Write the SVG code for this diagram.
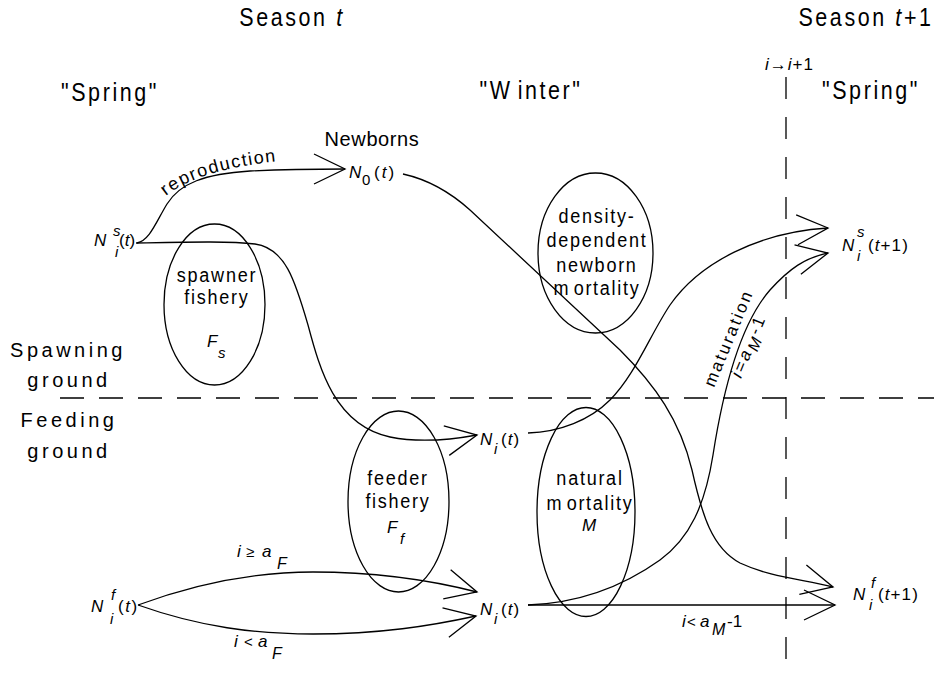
<svg xmlns="http://www.w3.org/2000/svg" width="934" height="673" viewBox="0 0 934 673">
  <style>
    text { font-family: "Liberation Sans", Arial, sans-serif; fill: #000; }
    .it { font-style: italic; }
    .nw { transform: scaleX(0.86); transform-box: fill-box; transform-origin: center; }
    .title { font-size: 25px; letter-spacing: 3px; text-anchor: middle; }
    .side { font-size: 20px; letter-spacing: 3.5px; text-anchor: middle; }
    .inside { font-size: 21px; letter-spacing: 2px; text-anchor: middle; }
    .var { font-size: 17px; }
    .sub { font-size: 15px; }
    .line { fill: none; stroke: #000; stroke-width: 1.3; }
    .dash-h { fill: none; stroke: #000; stroke-width: 1.3; stroke-dasharray: 24 15; }
    .dash-v { fill: none; stroke: #000; stroke-width: 1.3; stroke-dasharray: 22 18; }
    .zone { fill: none; stroke: #000; stroke-width: 1.3; }
  </style>
  <defs>
    <marker id="vee" markerUnits="userSpaceOnUse" markerWidth="40" markerHeight="40" refX="0" refY="0" orient="auto" overflow="visible">
      <path d="M-31,-15 L0,0 L-31,15" fill="none" stroke="#000" stroke-width="1.3"/>
    </marker>
    <path id="reproLabel" d="M166,196 Q200,168 290,160"/>
  </defs>

  <rect width="934" height="673" fill="#fff"/>

  <!-- season / time-of-year headings -->
  <g id="headings">
    <text class="title nw" x="292" y="26">Season <tspan class="it">t</tspan></text>
    <text class="title nw" x="866" y="26" letter-spacing="1.2">Season <tspan class="it">t</tspan>+1</text>
    <text class="var" x="765" y="70" letter-spacing="1"><tspan class="it">i</tspan>→<tspan class="it">i</tspan>+1</text>
    <text class="title nw" x="110" y="101" letter-spacing="2.5">"Spring"</text>
    <text class="title nw" x="531" y="99" letter-spacing="2">"W<tspan dx="6">inter"</tspan></text>
    <text class="title nw" x="871" y="99" letter-spacing="2.5">"Spring"</text>
  </g>

  <!-- habitat labels and boundaries -->
  <g id="habitats">
    <text class="side" x="68" y="357">Spawning</text>
    <text class="side" x="69" y="387">ground</text>
    <text class="side" x="69" y="427">Feeding</text>
    <text class="side" x="69" y="458">ground</text>
    <line class="dash-h" x1="60" y1="398" x2="934" y2="398"/>
    <line class="dash-v" x1="786" y1="77" x2="786" y2="673"/>
  </g>

  <!-- process zones -->
  <g id="spawner-fishery">
    <ellipse class="zone" cx="214.5" cy="304.5" rx="50.5" ry="80.5"/>
    <text class="inside nw" x="217" y="282">spawner</text>
    <text class="inside nw" x="217" y="304">fishery</text>
    <text class="var it" x="207" y="347">F<tspan class="sub" x="218" y="358">s</tspan></text>
  </g>
  <g id="newborn-mortality">
    <ellipse class="zone" cx="595.5" cy="253" rx="57.5" ry="80"/>
    <text class="inside nw" x="597" y="223">density-</text>
    <text class="inside nw" x="597" y="247">dependent</text>
    <text class="inside nw" x="597" y="272">newborn</text>
    <text class="inside nw" x="597" y="295">m<tspan dx="4">ortality</tspan></text>
  </g>
  <g id="feeder-fishery">
    <ellipse class="zone" cx="398.5" cy="501.5" rx="50.5" ry="90.5"/>
    <text class="inside nw" x="398" y="485">feeder</text>
    <text class="inside nw" x="398" y="508">fishery</text>
    <text class="var it" x="387" y="533">F<tspan class="sub" x="400" y="544">f</tspan></text>
  </g>
  <g id="natural-mortality">
    <ellipse class="zone" cx="586" cy="512" rx="49" ry="104.5"/>
    <text class="inside nw" x="590" y="485">natural</text>
    <text class="inside nw" x="590" y="510">m<tspan dx="4">ortality</tspan></text>
    <text class="var it" x="582" y="531">M</text>
  </g>

  <!-- population states -->
  <g id="spawners-t">
    <text class="var"><tspan class="it" x="94" y="246">N</tspan><tspan class="sub it" x="113" y="236">s</tspan><tspan class="sub it" x="115" y="257">i</tspan><tspan x="119" y="246">(</tspan><tspan class="it">t</tspan>)</text>
  </g>
  <g id="newborns">
    <text x="372" y="146" font-size="20" letter-spacing="0.6" text-anchor="middle">Newborns</text>
    <text class="var"><tspan class="it" x="349" y="178">N</tspan><tspan class="sub" x="362" y="185">0</tspan><tspan x="374" y="178" letter-spacing="2">(</tspan><tspan class="it" letter-spacing="2">t</tspan>)</text>
  </g>
  <g id="spawners-next">
    <text class="var"><tspan class="it" x="842" y="251">N</tspan><tspan class="sub it" x="857" y="237">s</tspan><tspan class="sub it" x="857" y="261">i</tspan><tspan x="868" y="251" letter-spacing="1.1">(</tspan><tspan class="it" letter-spacing="1.1">t</tspan><tspan letter-spacing="1.1">+1)</tspan></text>
  </g>
  <g id="feeders-from-spawning">
    <text class="var"><tspan class="it" x="480" y="445">N</tspan><tspan class="sub it" x="494" y="454">i</tspan><tspan x="501" y="445" letter-spacing="1">(</tspan><tspan class="it" letter-spacing="1">t</tspan>)</text>
  </g>
  <g id="feeders-winter">
    <text class="var"><tspan class="it" x="480" y="615">N</tspan><tspan class="sub it" x="494" y="624">i</tspan><tspan x="501" y="615" letter-spacing="1">(</tspan><tspan class="it" letter-spacing="1">t</tspan>)</text>
  </g>
  <g id="feeders-t">
    <text class="var"><tspan class="it" x="91" y="612">N</tspan><tspan class="sub it" x="111" y="600">f</tspan><tspan class="sub it" x="110" y="624">i</tspan><tspan x="118" y="612" letter-spacing="1.5">(</tspan><tspan class="it" letter-spacing="1.5">t</tspan>)</text>
  </g>
  <g id="feeders-next">
    <text class="var"><tspan class="it" x="853" y="600">N</tspan><tspan class="sub it" x="871" y="588">f</tspan><tspan class="sub it" x="869" y="610">i</tspan><tspan x="878" y="600" letter-spacing="1.1">(</tspan><tspan class="it" letter-spacing="1.1">t</tspan><tspan letter-spacing="1.1">+1)</tspan></text>
  </g>

  <!-- transitions between states -->
  <g id="connectors" marker-end="url(#vee)">
    <path class="line" d="M137,243 C150,240 156,222 167,204 C180,183 205,174 250,171 C290,169 320,169 345,169"/>
    <path class="line" d="M403,174 C430,180 450,192 470,210 L620,350 C655,385 680,420 692,470 C702,515 712,548 740,563 C770,577 800,579 833,587"/>
    <path class="line" d="M136,243 C190,242 230,241 255,244 C285,248 295,280 308,325 C320,370 335,425 390,437 C420,443 450,440 477,435"/>
    <path class="line" d="M528,433 C560,432 590,420 610,400 C635,375 650,335 670,305 C700,262 760,232 828,228"/>
    <path class="line" d="M528,605 C580,603 625,585 660,560 C690,538 705,505 713,455 C720,410 735,330 770,290 C790,268 805,258 828,253"/>
    <path class="line" d="M528,605 L835,605"/>
    <path class="line" d="M138,605 C200,582 255,572 313,572 C380,572 430,580 477,592"/>
    <path class="line" d="M138,605 C200,627 255,634 313,634 C380,634 430,626 476,616"/>
  </g>

  <!-- transition labels -->
  <g id="transition-labels">
    <text font-size="18" letter-spacing="1.5"><textPath href="#reproLabel">reproduction</textPath></text>
    <text class="var" transform="translate(714,388) rotate(-67.6)" letter-spacing="2.3">maturation</text>
    <text class="var" transform="translate(741,379) rotate(-67.6)" letter-spacing="2.5"><tspan class="it">i</tspan>=<tspan class="it">a</tspan><tspan class="it" font-size="16" dy="5">M</tspan><tspan dy="-5">-1</tspan></text>
    <text class="var"><tspan class="it" x="237" y="557">i</tspan><tspan class="sub" x="246" y="557">≥</tspan><tspan class="it" x="262" y="557">a</tspan><tspan class="it" font-size="16" x="277" y="569">F</tspan></text>
    <text class="var"><tspan class="it" x="234" y="647">i</tspan><tspan class="sub" x="244" y="647">&lt;</tspan><tspan class="it" x="258" y="647">a</tspan><tspan class="it" font-size="16" x="272" y="659">F</tspan></text>
    <text class="var"><tspan class="it" x="682" y="627">i</tspan><tspan class="sub" x="687" y="627">&lt;</tspan><tspan class="it" x="700" y="627">a</tspan><tspan class="it" font-size="16" x="712" y="635">M</tspan><tspan x="727" y="627">-1</tspan></text>
  </g>
</svg>
